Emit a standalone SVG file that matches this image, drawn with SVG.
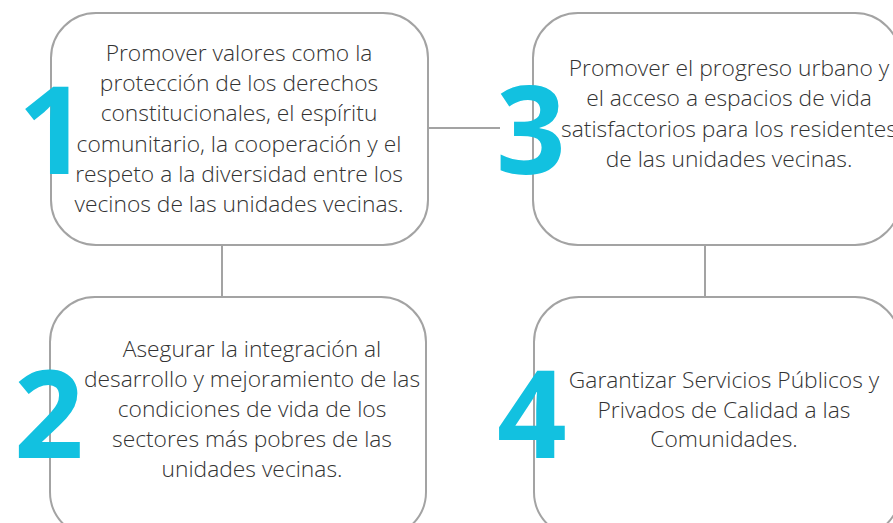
<svg xmlns="http://www.w3.org/2000/svg" width="893" height="523" viewBox="0 0 893 523">
<style>
.box{fill:#fff;stroke:#a3a3a3;stroke-width:2}
.conn line{stroke:#a3a3a3;stroke-width:2}
.t{font-family:"Open Sans","Noto Sans","Liberation Sans",sans-serif;font-weight:300;font-size:22.8px;fill:#333;text-anchor:middle}
.n{font-family:"Open Sans","Noto Sans","Liberation Sans",sans-serif;font-weight:700;font-size:122px;fill:#12C1E0}
</style>
<rect width="893" height="523" fill="#fff"/>
<g class="conn" id="connectors">
<line x1="428" y1="128" x2="500" y2="128"/>
<line x1="222" y1="245" x2="222" y2="297"/>
<line x1="705" y1="245" x2="705" y2="297"/>
</g>
<g id="node1">
<rect class="box" x="51" y="13" width="377" height="232" rx="45"/>
<text class="n" x="18" y="174">1</text>
<text class="t"><tspan x="239" y="61">Promover valores como la</tspan><tspan x="239" y="91">protección de los derechos</tspan><tspan x="239" y="121">constitucionales, el espíritu</tspan><tspan x="239" y="152">comunitario, la cooperación y el</tspan><tspan x="239" y="182">respeto a la diversidad entre los</tspan><tspan x="239" y="212">vecinos de las unidades vecinas.</tspan></text>
</g>
<g id="node3">
<rect class="box" x="533" y="13" width="367" height="232" rx="45"/>
<text class="n" x="496" y="174">3</text>
<text class="t"><tspan x="729" y="76">Promover el progreso urbano y</tspan><tspan x="729" y="106">el acceso a espacios de vida</tspan><tspan x="729" y="137">satisfactorios para los residentes</tspan><tspan x="729" y="167">de las unidades vecinas.</tspan></text>
</g>
<g id="node2">
<rect class="box" x="50" y="297" width="376" height="240" rx="45"/>
<text class="n" x="14" y="458">2</text>
<text class="t"><tspan x="252" y="357">Asegurar la integración al</tspan><tspan x="252" y="387">desarrollo y mejoramiento de las</tspan><tspan x="252" y="417">condiciones de vida de los</tspan><tspan x="252" y="447">sectores más pobres de las</tspan><tspan x="252" y="477">unidades vecinas.</tspan></text>
</g>
<g id="node4">
<rect class="box" x="534" y="297" width="366" height="240" rx="45"/>
<text class="n" x="497" y="458">4</text>
<text class="t"><tspan x="724" y="388">Garantizar Servicios Públicos y</tspan><tspan x="724" y="418">Privados de Calidad a las</tspan><tspan x="724" y="447">Comunidades.</tspan></text>
</g>
</svg>
